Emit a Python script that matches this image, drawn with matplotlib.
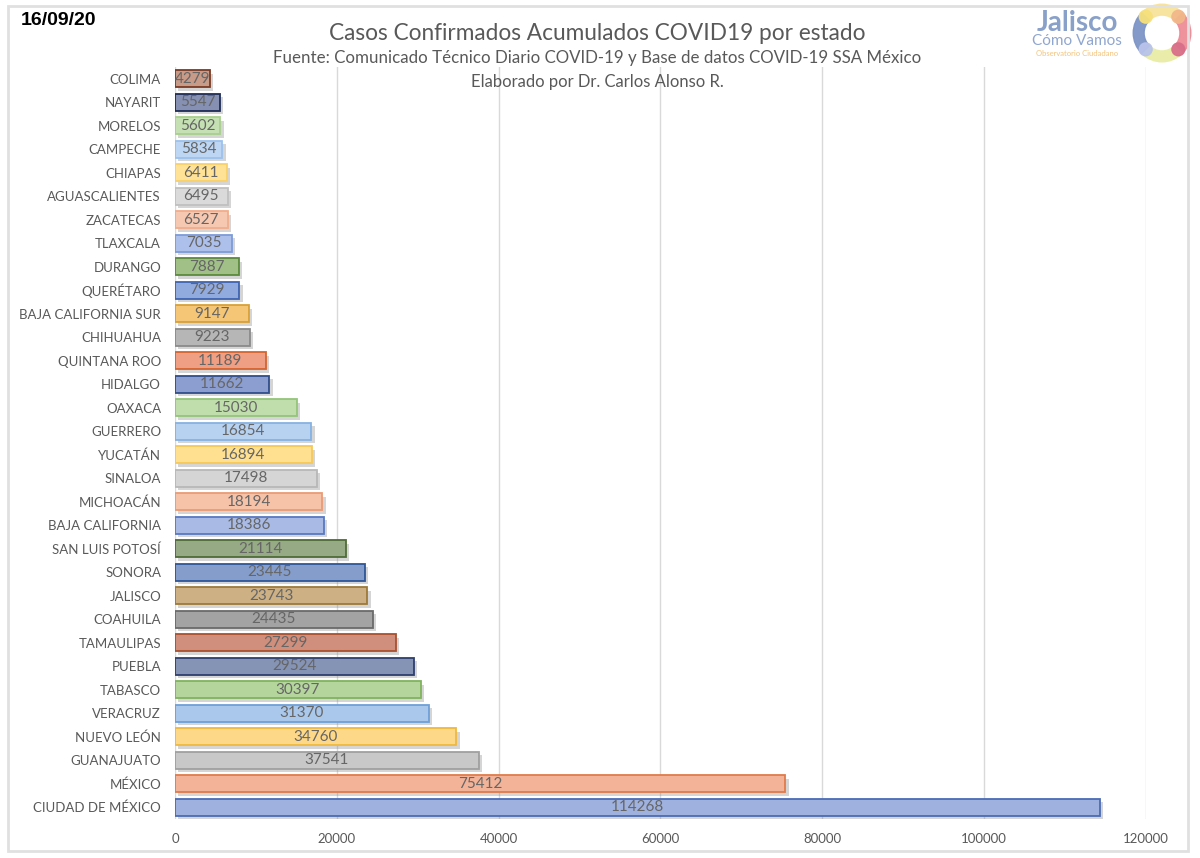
import matplotlib
matplotlib.use("Agg")
import matplotlib.pyplot as plt
import matplotlib.patheffects as pe
from matplotlib.patches import Rectangle, Wedge, Circle

plt.rcParams['font.family'] = ['Lato', 'DejaVu Sans']

# data (bottom to top)
states = ["CIUDAD DE MÉXICO", "MÉXICO", "GUANAJUATO", "NUEVO LEÓN", "VERACRUZ", "TABASCO",
          "PUEBLA", "TAMAULIPAS", "COAHUILA", "JALISCO", "SONORA", "SAN LUIS POTOSÍ",
          "BAJA CALIFORNIA", "MICHOACÁN", "SINALOA", "YUCATÁN", "GUERRERO", "OAXACA",
          "HIDALGO", "QUINTANA ROO", "CHIHUAHUA", "BAJA CALIFORNIA SUR", "QUERÉTARO", "DURANGO",
          "TLAXCALA", "ZACATECAS", "AGUASCALIENTES", "CHIAPAS", "CAMPECHE", "MORELOS",
          "NAYARIT", "COLIMA"]
cases = [114268, 75412, 37541, 34760, 31370, 30397,
         29524, 27299, 24435, 23743, 23445, 21114,
         18386, 18194, 17498, 16894, 16854, 15030,
         11662, 11189, 9223, 9147, 7929, 7887,
         7035, 6527, 6495, 6411, 5834, 5602,
         5547, 4279]

fills = ["#9fb1de", "#f2b398", "#c8c8c8", "#fdd888", "#aac8ec", "#b4d59c",
         "#8593b5", "#cf8f7c", "#a3a3a3", "#cdb084", "#849dcb", "#96aa86",
         "#a9bbe5", "#f6c3a9", "#d5d5d5", "#ffe090", "#b7d2f1", "#c0deac",
         "#8c9ed0", "#ee9f84", "#b6b6b6", "#f5c675", "#92abdf", "#a0c088",
         "#adc0eb", "#f7c8b1", "#dadada", "#ffe295", "#bdd6f3", "#c5e0b3",
         "#8590b2", "#c89a88"]
edges = ["#4a6bb4", "#e07b4c", "#a0a0a0", "#f0b840", "#6fa0d8", "#7fb35e",
         "#2e3f6e", "#a9502f", "#6a6a6a", "#9c7a3a", "#2f5596", "#4f6b38",
         "#5878c2", "#eb9a74", "#b8b8b8", "#f6c85a", "#86b2e2", "#95c47a",
         "#2f4e8c", "#d4642f", "#8a8a8a", "#d7a13a", "#4064b0", "#5c8a3c",
         "#7d9bd8", "#f2ac8a", "#c0c0c0", "#f9d06c", "#9cc2ec", "#a8d08d",
         "#1f2d57", "#7a3a24"]

fig = plt.figure(figsize=(12, 8.58), dpi=100)
ax = fig.add_axes([0.1458, 0.0455, 0.8092, 0.8765])

y = list(range(len(states)))
bars = ax.barh(y, cases, height=0.72, color=fills, edgecolor=edges, linewidth=1.3, zorder=3)
for b in bars:
    b.set_path_effects([pe.SimplePatchShadow(offset=(2.5, -2.5), shadow_rgbFace="#888888", alpha=0.35),
                        pe.Normal()])

for yi, v in zip(y, cases):
    ax.text(v / 2, yi, str(v), ha="center", va="center", fontsize=11, color="#666666", zorder=4)

ax.set_xlim(0, 120000)
ax.set_ylim(-0.5, len(states) - 0.5)
ax.set_xticks(range(0, 120001, 20000))
ax.set_yticks(y)
ax.set_yticklabels(states)
ax.tick_params(axis="y", length=0, pad=10, labelsize=9.5, labelcolor="#595959")
ax.tick_params(axis="x", length=0, pad=10, labelsize=9.5, labelcolor="#595959")
ax.grid(axis="x", color="#d9d9d9", linewidth=1, zorder=0)
for s in ax.spines.values():
    s.set_visible(False)

# titles
fig.text(0.498, 0.961, "Casos Confirmados Acumulados COVID19 por estado", ha="center", va="center",
         fontsize=16.3, color="#595959")
fig.text(0.498, 0.932, "Fuente: Comunicado Técnico Diario COVID-19 y Base de datos COVID-19 SSA México",
         ha="center", va="center", fontsize=12.2, color="#595959")
fig.text(0.498, 0.905, "Elaborado por Dr. Carlos Alonso R.", ha="center", va="center",
         fontsize=12, color="#595959")
fig.text(0.017, 0.976, "16/09/20", ha="left", va="center", fontsize=14, fontweight="bold",
         family=["Liberation Sans", "DejaVu Sans"], color="black")

# logo
fig.text(0.8975, 0.973, "Jalisco", ha="center", va="center", fontsize=20, fontweight="bold",
         color="#7590c0", alpha=0.85)
fig.text(0.8975, 0.952, "Cómo Vamos", ha="center", va="center", fontsize=11, color="#8fa6cf")
fig.text(0.8975, 0.938, "Observatorio Ciudadano", ha="center", va="center", fontsize=5.5, color="#f3c37a")
lax = fig.add_axes([0.9417, 0.9242, 0.0533, 0.0746])
lax.set_xlim(-1, 1)
lax.set_ylim(-1, 1)
lax.axis("off")
for a1, a2, c in [(45, 135, "#f8e39c"), (-45, 45, "#ee8c97"), (225, 315, "#e9eda5"),
                  (135, 225, "#7d95c6")]:
    lax.add_patch(Wedge((0, 0), 0.9, a1, a2, width=0.34, color=c, alpha=0.95))
for xc, yc, c in [(-0.51, 0.51, "#f6e07c"), (0.51, 0.51, "#f2b88a"), (0.51, -0.51, "#d9708a"),
                  (-0.51, -0.51, "#b9c3ea")]:
    lax.add_patch(Circle((xc, yc), 0.2, color=c, alpha=0.95))

# border
fig.patches.append(Rectangle((0.007, 0.008), 0.983, 0.985, transform=fig.transFigure,
                             fill=False, edgecolor="#e0e0e0", linewidth=2))

fig.savefig("out.png", dpi=100)
